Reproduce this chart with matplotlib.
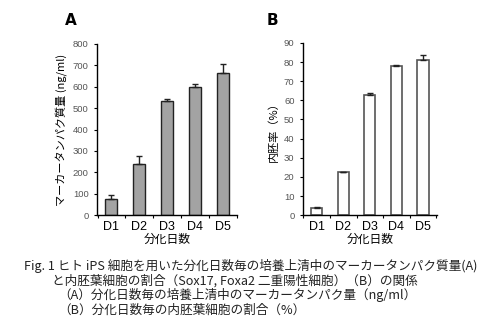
import numpy as np
import matplotlib.pyplot as plt

plt.rcParams['font.family'] = ['Noto Sans CJK JP', 'DejaVu Sans']

days = ['D1', 'D2', 'D3', 'D4', 'D5']
protein = [75, 240, 532, 597, 663]
protein_err = [20, 38, 12, 14, 42]
endo_rate = [4.0, 22.3, 63.0, 77.8, 81.0]
endo_err = [0.5, 0.2, 1.0, 0.5, 2.5]

caption = [
    "Fig. 1 ヒト iPS 細胞を用いた分化日数毎の培養上清中のマーカータンパク質量(A)",
    "と内胚葉細胞の割合（Sox17, Foxa2 二重陽性細胞）（B）の関係",
    "（A）分化日数毎の培養上清中のマーカータンパク量（ng/ml）",
    "（B）分化日数毎の内胚葉細胞の割合（%）",
]

fig = plt.figure(figsize=(4.8, 3.3), dpi=100)
axA = fig.add_axes([0.202, 0.348, 0.292, 0.519])
axB = fig.add_axes([0.631, 0.348, 0.279, 0.522])

x = np.arange(len(days))


def style_axis(ax, ymax, step):
    ax.set_xlim(-0.52, 4.52)
    ax.set_ylim(0, ymax)
    ax.set_yticks(np.arange(0, ymax + 1, step))
    ax.set_xticks(x)
    ax.set_xticklabels(days, fontsize=9, family='Liberation Sans')
    ax.set_xticks(np.arange(-0.5, 5, 1), minor=True)
    ax.tick_params(axis='x', which='major', length=0, pad=4)
    ax.tick_params(axis='x', which='minor', length=2.5, width=0.8)
    ax.tick_params(axis='y', length=2.5, width=0.8, labelsize=6.8,
                   labelcolor='#555555')
    for lab in ax.get_yticklabels():
        lab.set_family('Liberation Sans')
    for s in ['top', 'right']:
        ax.spines[s].set_visible(False)
    ax.spines['left'].set_linewidth(1.0)
    ax.spines['bottom'].set_linewidth(1.0)
    ax.set_xlabel('分化日数', fontsize=8.5, labelpad=0)


axA.bar(x, protein, width=0.43, color='#a3a3a3', edgecolor='#222222',
        linewidth=1.0, yerr=[np.zeros(5), protein_err],
        error_kw=dict(ecolor='#222222', elinewidth=1.0, capsize=2.5, capthick=1.0))
style_axis(axA, 800, 100)
axA.set_ylabel('マーカータンパク質量 (ng/ml)', fontsize=8, labelpad=4)
fig.text(0.135, 0.925, 'A', fontsize=11, fontweight='bold', family='DejaVu Sans')

axB.bar(x, endo_rate, width=0.42, color='white', edgecolor='#555555',
        linewidth=1.2, yerr=[np.zeros(5), endo_err],
        error_kw=dict(ecolor='#222222', elinewidth=1.0, capsize=2.5, capthick=1.0))
style_axis(axB, 90, 10)
axB.set_ylabel('内胚率（%）', fontsize=8, labelpad=4)
fig.text(0.556, 0.925, 'B', fontsize=11, fontweight='bold', family='DejaVu Sans')

ys = [0.194, 0.148, 0.105, 0.060]
xs = [0.05, 0.108, 0.122, 0.122]
for t, xx, yy in zip(caption, xs, ys):
    fig.text(xx, yy, t, fontsize=9.1, va='center', ha='left', color='#222222')

fig.savefig('out.png', dpi=100)
